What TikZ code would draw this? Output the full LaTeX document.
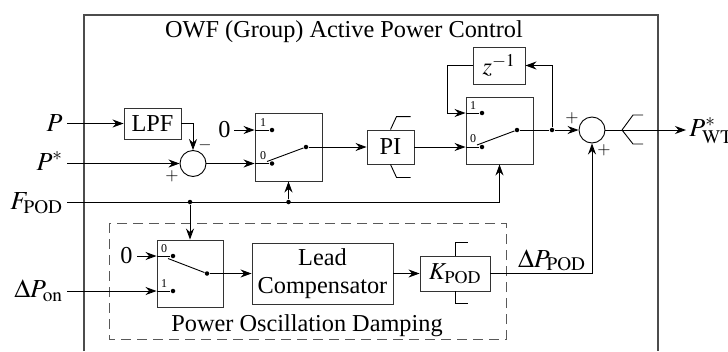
\documentclass[tikz,border=0pt]{standalone}
\usepackage{mathptmx}
\usepackage{fontspec}
\setmainfont{Liberation Serif}
\usetikzlibrary{arrows.meta}
\begin{document}
\begin{tikzpicture}[x=1pt,y=-1pt, font=\fontsize{24.3}{28}\selectfont,
  >={Stealth[length=11pt,width=8pt]},
  line width=0.9pt,
  blk/.style={draw=black!80, line width=0.9pt, inner sep=0pt},
  sumc/.style={circle,draw,minimum size=26pt,inner sep=0pt},
  dot/.style={circle,fill,inner sep=0pt,minimum size=4.5pt},
  lbl/.style={inner sep=0pt},
  big/.style={inner sep=0pt, font=\fontsize{26}{30}\selectfont},
  small/.style={font=\fontsize{12}{14}\selectfont, inner sep=0pt},
  sign/.style={font=\fontsize{17}{18}\selectfont, inner sep=0pt},
]
\useasboundingbox (0,0) rectangle (728,351);
% outer frame
\draw[black!70, line width=1.1pt] (84,351) -- (84,15) -- (658,15) -- (658,351);
\node[lbl, anchor=base] (title) at (344,37) {OWF (Group) Active Power Control};

% blocks
\node[blk, minimum width=57pt, minimum height=31pt] (lpf) at (152.5,123.5) {LPF};
\node[sumc] (s1) at (193,163.5) {};
\node[blk, minimum width=67pt, minimum height=68pt] (sw1) at (288.5,147) {};
\node[blk, minimum width=47pt, minimum height=34pt] (pi) at (390.5,147) {PI};
\node[blk, minimum width=67pt, minimum height=67pt] (sw2) at (499.5,130.5) {};
\node[blk, minimum width=52pt, minimum height=37pt] (z) at (499,65.5) {$z^{-1}$};
\node[sumc] (s2) at (592,130) {};
\node[blk, minimum width=66pt, minimum height=67pt] (sw3) at (190,273.5) {};
\node[blk, minimum width=141pt, minimum height=61pt, align=center] (lead) at (322.5,273.5) {Lead\\Compensator};
\node[blk, minimum width=70pt, minimum height=35pt] (kpod) at (455,273.5) {$K_{\mathrm{POD}}$};

% dashed POD frame
\draw[black!65, dash pattern=on 10pt off 6pt] (109,223) rectangle (506,339);
\node[lbl, anchor=base] (podlbl) at (307,331) {Power Oscillation Damping};

% switch contacts
\node[dot] (sw1a) at (272,130) {};
\node[dot] (sw1b) at (272,163.5) {};
\node[dot] (sw1o) at (306,147) {};
\coordinate (sw1l) at (267,161.5);
\node[dot] (sw2a) at (482,113) {};
\node[dot] (sw2b) at (482,147) {};
\node[dot] (sw2o) at (517,130) {};
\coordinate (sw2l) at (477,145);
\node[dot] (sw3a) at (173,256) {};
\node[dot] (sw3b) at (173,291) {};
\node[dot] (sw3o) at (207,273.5) {};
\coordinate (sw3l) at (168,258.5);
\draw (sw1l) -- (sw1o);
\draw (sw2l) -- (sw2o);
\draw (sw3l) -- (sw3o);

% small port labels
\node[small] (l1a) at (263,123) {1};
\node[small] (l1b) at (263,156) {0};
\node[small] (l2a) at (473,106) {1};
\node[small] (l2b) at (473,139) {0};
\node[small] (l3a) at (164,249) {0};
\node[small] (l3b) at (164,284) {1};

% signs
\node[sign] (m1) at (205,145) {$-$};
\node[sign] (p1) at (172,176) {$+$};
\node[sign] (p2) at (572,118) {$+$};
\node[sign] (p3) at (604,150) {$+$};

% input labels
\node[big, anchor=east] (P) at (63,123) {$P$};
\node[big, anchor=east] (Ps) at (63,161) {$P^{*}$};
\node[big, anchor=east] (F) at (63,203) {$F_{\mathrm{POD}}$};
\node[big, anchor=east] (dPon) at (63,291) {$\Delta P_{\mathrm{on}}$};
\node[lbl, anchor=east] (z1) at (231,130) {0};
\node[lbl, anchor=east] (z3) at (133,256) {0};
\node[big, anchor=west] (out) at (689,131) {$P^{*}_{\mathrm{WT}}$};
\node[big, anchor=base east] (dPpod) at (586,267) {$\Delta P_{\mathrm{POD}}$};

% connectors
\draw[->] ([xshift=4pt]P.east|-lpf) -- (lpf.west);
\draw[->] (lpf.east) -| (s1.north);
\draw[->] ([xshift=4pt]Ps.east|-s1) -- (s1.west);
\draw[->] (s1.east) -- (sw1.west|-sw1b);
\draw (sw1.west|-sw1b) -- (sw1b);
\draw[->] ([xshift=3pt]z1.east) -- (sw1.west|-sw1a);
\draw (sw1.west|-sw1a) -- (sw1a);
\draw[->] (sw1o) -- (pi.west);
\draw (pi.north) -- ++(6,-13) -- ++(14,0);
\draw (pi.south) -- ++(6,13) -- ++(14,0);
\draw[->] (pi.east) -- (sw2.west|-sw2b);
\draw (sw2.west|-sw2b) -- (sw2b);
\node[dot] (j2) at (552,130) {};
\draw (sw2o) -- (j2);
\draw[->] (j2) -- (s2.west);
\draw[->] (j2) |- (z.east);
\coordinate (fbl) at (447,65.5);
\draw[->] (z.west) -- (fbl) |- (sw2.west|-sw2a);
\draw (sw2.west|-sw2a) -- (sw2a);
% output
\coordinate (lim) at (622,130);
\draw (lim) -- ++(11,-15) -- ++(10,0);
\draw (lim) -- ++(11,14) -- ++(10,0);
\draw[->] (s2.east) -- ([xshift=-3pt]out.west|-s2);
% F_POD
\node[dot] (jf1) at (190,202) {};
\node[dot] (jf2) at (288.5,202) {};
\coordinate (fc) at (499.5,202);
\draw ([xshift=4pt]F.east|-jf1) -- (fc);
\draw[->] (fc) -- (sw2.south);
\draw[->] (jf2) -- (sw1.south);
\draw[->] (jf1) -- (sw3.north);
% POD chain
\draw[->] ([xshift=4pt]z3.east) -- (sw3.west|-sw3a);
\draw (sw3.west|-sw3a) -- (sw3a);
\draw[->] ([xshift=4pt]dPon.east|-sw3b) -- (sw3.west|-sw3b);
\draw (sw3.west|-sw3b) -- (sw3b);
\draw[->] (sw3o) -- (lead.west);
\draw[->] (lead.east) -- (kpod.west);
\draw (kpod.north) -- ++(0,-13) -- ++(13,0);
\draw (kpod.south) -- ++(0,12) -- ++(13,0);
\draw[->] (kpod.east) -| (s2.south);
\end{tikzpicture}
\end{document}
